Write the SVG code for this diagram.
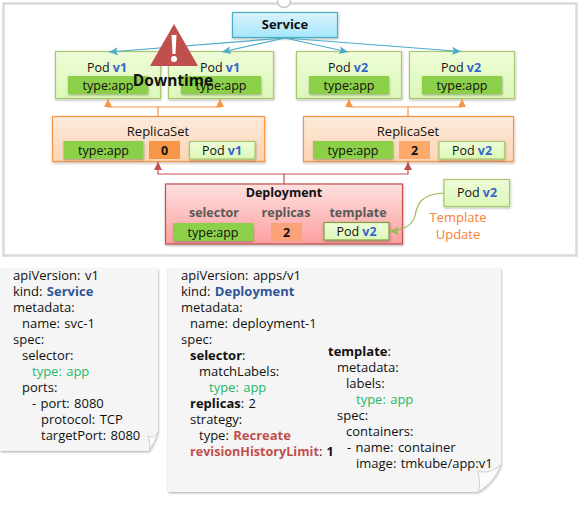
<svg xmlns="http://www.w3.org/2000/svg" width="588" height="507" viewBox="0 0 588 507">
<defs>
<linearGradient id="gs" x1="0" y1="0" x2="0" y2="1"><stop offset="0" stop-color="#d8f3fc"/><stop offset="1" stop-color="#a6e6fb"/></linearGradient>
<linearGradient id="gp" x1="0" y1="0" x2="0" y2="1"><stop offset="0" stop-color="#eefcd8"/><stop offset="1" stop-color="#dcf8b8"/></linearGradient>
<linearGradient id="gr" x1="0" y1="0" x2="0" y2="1"><stop offset="0" stop-color="#fdeadb"/><stop offset="1" stop-color="#fdd5b5"/></linearGradient>
<linearGradient id="gd" x1="0" y1="0" x2="0" y2="1"><stop offset="0" stop-color="#fde0e0"/><stop offset="1" stop-color="#fd9f9f"/></linearGradient>
<filter id="sh" x="-10%" y="-10%" width="120%" height="130%"><feDropShadow dx="0.5" dy="1.2" stdDeviation="0.8" flood-color="#000" flood-opacity="0.3"/></filter>
<marker id="ab" markerUnits="userSpaceOnUse" markerWidth="11" markerHeight="9" refX="9" refY="4" orient="auto"><path d="M0 0L9 4L0 8L2 4Z" fill="#4bacc6"/></marker>
<marker id="ao" markerUnits="userSpaceOnUse" markerWidth="9" markerHeight="9" refX="8" refY="4" orient="auto"><path d="M0 0L8 4L0 8Z" fill="#f79646"/></marker>
<marker id="ar" markerUnits="userSpaceOnUse" markerWidth="9" markerHeight="9" refX="8" refY="4" orient="auto"><path d="M0 0L8 4L0 8Z" fill="#c0504d"/></marker>
<marker id="ag" markerUnits="userSpaceOnUse" markerWidth="11" markerHeight="10" refX="9" refY="4.500" orient="auto"><path d="M0 0L9 4.500L0 9L2 4.500Z" fill="#9bbb59"/></marker>
</defs>
<style>
text{font-family:"Open Sans","Noto Sans","Liberation Sans",sans-serif;font-size:12.500px;fill:#111}
.m{text-anchor:middle}
.b{font-weight:700}
.v{fill:#3366cc;font-weight:700}
.pod{fill:url(#gp);stroke:#a9c66f;stroke-width:1.200;filter:url(#sh)}
.ty{fill:#8ccf4a;filter:url(#sh)}
.rs{fill:url(#gr);stroke:#f79646;stroke-width:1.200;filter:url(#sh)}
.hd{font-weight:700;fill:#595959}
.t13{font-size:13px}
.note{fill:#f5f5f5;filter:url(#sh)}
.txt text{font-size:13px;word-spacing:1px}
.fold{fill:#fbfbfb;stroke:#c4c4c4;stroke-width:.8}
.kw{font-weight:700;fill:#2f5597}
.gn{fill:#1fb868}
.rd{font-weight:700;fill:#c0504d}
.blue{fill:none;stroke:#4bacc6;stroke-width:1.200;marker-end:url(#ab)}
.or{fill:none;stroke:#f79646;stroke-width:1.200;marker-end:url(#ao)}
.red{fill:none;stroke:#c0504d;stroke-width:1.200;marker-end:url(#ar)}
</style>
<rect x="3.500" y="3.500" width="573" height="252" fill="#fff" stroke="#d9d9d9" stroke-width="2.500"/>
<circle cx="284" cy="1" r="6.500" fill="#fff" stroke="#c8c8c8" stroke-width="1.500"/>

<g id="service"><rect x="232.500" y="12.500" width="105" height="25" fill="url(#gs)" stroke="#4bacc6" stroke-width="1.200" filter="url(#sh)"/><text class="m b t13" x="285" y="29">Service</text></g>

<g id="pod1"><rect class="pod" x="55.500" y="51.500" width="105" height="47"/><rect class="ty" x="68" y="76" width="80" height="18"/><text class="m" x="107" y="72">Pod <tspan class="v">v1</tspan></text><text class="m" x="108" y="90">type:app</text></g>
<g id="pod2"><rect class="pod" x="168.500" y="51.500" width="105" height="47"/><rect class="ty" x="181" y="76" width="80" height="18"/><text class="m" x="220" y="72">Pod <tspan class="v">v1</tspan></text><text class="m" x="221" y="90">type:app</text></g>
<g id="pod3"><rect class="pod" x="296.500" y="51.500" width="105" height="47"/><rect class="ty" x="309" y="76" width="80" height="18"/><text class="m" x="348" y="72">Pod <tspan class="v">v2</tspan></text><text class="m" x="349" y="90">type:app</text></g>
<g id="pod4"><rect class="pod" x="409.500" y="51.500" width="105" height="47"/><rect class="ty" x="422" y="76" width="80" height="18"/><text class="m" x="461" y="72">Pod <tspan class="v">v2</tspan></text><text class="m" x="462" y="90">type:app</text></g>

<g id="replicaset1"><rect class="rs" x="52.500" y="116.500" width="212" height="45"/><text class="m t13" x="158" y="136">ReplicaSet</text>
<rect class="ty" x="63.500" y="141" width="80" height="18"/><text class="m" x="103.500" y="154.500">type:app</text>
<rect x="149" y="141" width="31" height="18" fill="#f79646"/><text class="m b" x="164.500" y="155">0</text>
<rect class="pod" x="189.500" y="141.500" width="65.500" height="17.500"/><text class="m" x="222" y="154.500">Pod <tspan class="v">v1</tspan></text></g>

<g id="replicaset2"><rect class="rs" x="303.500" y="116.500" width="210" height="45"/><text class="m t13" x="408" y="136">ReplicaSet</text>
<rect class="ty" x="313" y="141" width="80" height="18"/><text class="m" x="353" y="154.500">type:app</text>
<rect x="399" y="141" width="31" height="18" fill="#fbaa6c"/><text class="m b" x="414.500" y="155">2</text>
<rect class="pod" x="439" y="141.500" width="65.500" height="17.500"/><text class="m" x="472" y="154.500">Pod <tspan class="v">v2</tspan></text></g>

<g id="deployment"><rect x="165.500" y="184" width="237" height="60" fill="url(#gd)" stroke="#c0504d" stroke-width="1.200" filter="url(#sh)"/>
<text class="m b" x="284" y="197">Deployment</text>
<text class="m hd" x="214" y="217">selector</text><text class="m hd" x="286" y="217">replicas</text><text class="m hd" x="358" y="217">template</text>
<rect class="ty" x="173" y="223" width="80" height="18"/><text class="m" x="213" y="236.500">type:app</text>
<rect x="271" y="223" width="31" height="18" fill="#fba27a"/><text class="m b" x="286.500" y="237">2</text>
<rect x="324" y="222.500" width="65" height="17.500" fill="url(#gp)" stroke="#7f9f3f" stroke-width="1.200" filter="url(#sh)"/><text class="m" x="356.500" y="235.500">Pod <tspan class="v">v2</tspan></text></g>

<g id="pod-update"><rect class="pod" x="444" y="179.500" width="65.500" height="27"/><text class="m" x="477" y="197">Pod <tspan class="v">v2</tspan></text></g>
<g id="template-update"><text class="m t13" x="458" y="221.500" style="fill:#f58233">Template</text><text class="m t13" x="458" y="238.500" style="fill:#f58233">Update</text></g>

<g id="connectors">
<path class="blue" d="M285 38L109 52"/><path class="blue" d="M285 38L222 52"/><path class="blue" d="M285 38L348 52"/><path class="blue" d="M285 38L461 51.500"/>
<path class="or" d="M158 116.500V107H108V99"/><path class="or" d="M158 107H220V99"/>
<path class="or" d="M408 116.500V107H349V99"/><path class="or" d="M408 107H462V99"/>
<path class="red" d="M284 184V174H158V162"/><path class="red" d="M284 174H408V162"/>
<path d="M444 193C420 194 417 205 415 216C413 226 400 231 390 231" fill="none" stroke="#9bbb59" stroke-width="1.200" marker-end="url(#ag)"/>
</g>

<g id="downtime"><path d="M174 24L198 66H150Z" fill="#c0504d"/><path d="M171.500 35H176.500L175.500 54H172.500Z" fill="#fff"/><circle cx="174" cy="59" r="3" fill="#fff"/><text class="m b" x="173" y="86" style="font-size:15.500px">Downtime</text></g>

<g id="note-service" class="txt"><path class="note" d="M0 268H158V432C156 439 153 445 149 451H0Z"/><path class="fold" d="M158 432C155 437 152 438 148 436C149 440 151 446 149 451C153 445 156 439 158 432Z"/>
<text x="13" y="280">apiVersion: v1</text><text x="13" y="296">kind: <tspan class="kw">Service</tspan></text><text x="13" y="312">metadata:</text><text x="22" y="328">name: svc-1</text><text x="13" y="344">spec:</text><text x="22" y="360">selector:</text><text class="gn" x="32" y="376">type: app</text><text x="22" y="392">ports:</text><text x="32" y="408">- port: 8080</text><text x="41" y="424">protocol: TCP</text><text x="41" y="440">targetPort: 8080</text></g>

<g id="note-deployment" class="txt"><path class="note" d="M168 268H501V465C497 475 490 485 478 492H168Z"/><path class="fold" d="M501 465C495 470 486 474 478 471C479 478 481 486 478 492C490 485 497 475 501 465Z"/>
<text x="181" y="280">apiVersion: apps/v1</text><text x="181" y="296">kind: <tspan class="kw">Deployment</tspan></text><text x="181" y="312">metadata:</text><text x="190" y="328">name: deployment-1</text><text x="181" y="344">spec:</text>
<text x="190" y="360"><tspan class="b">selector</tspan>:</text><text x="199" y="376">matchLabels:</text><text class="gn" x="209" y="392">type: app</text><text x="190" y="408"><tspan class="b">replicas</tspan>: 2</text><text x="190" y="424">strategy:</text><text x="199" y="440">type: <tspan class="rd">Recreate</tspan></text><text x="190" y="456" style="font-size:12.600px"><tspan class="rd">revisionHistoryLimit</tspan>: <tspan class="b">1</tspan></text>
<text x="328" y="356"><tspan class="b">template</tspan>:</text><text x="337" y="372">metadata:</text><text x="346" y="388">labels:</text><text class="gn" x="356" y="404">type: app</text><text x="337" y="420">spec:</text><text x="346" y="436">containers:</text><text x="347" y="452">- name: container</text><text x="356" y="468">image: tmkube/app:v1</text></g>
</svg>
